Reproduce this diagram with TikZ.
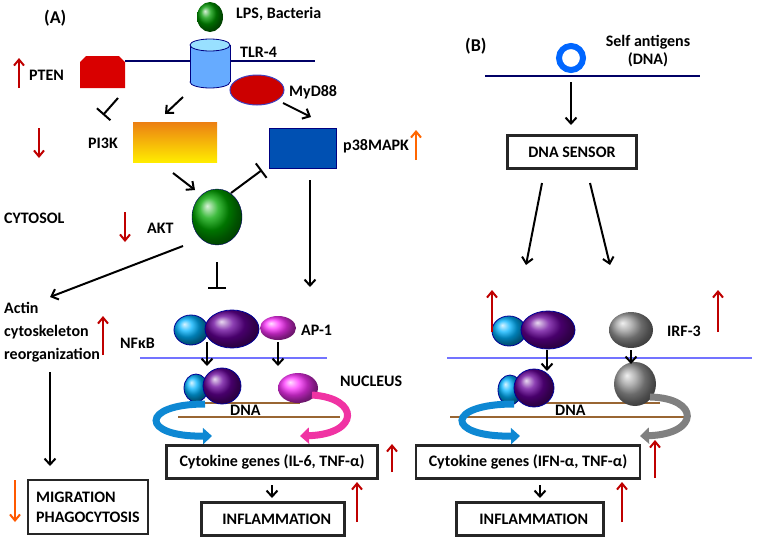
\documentclass[tikz,border=0pt]{standalone}
\usepackage{fontspec}
\setmainfont{Carlito}
\usetikzlibrary{arrows.meta,shapes.geometric}
\begin{document}
\begin{tikzpicture}[x=1pt,y=-1pt,
 lab/.style={font=\fontsize{16}{18}\selectfont\bfseries,inner sep=0,anchor=west},
 bx/.style={draw=black!85,line width=2.5pt,font=\fontsize{16}{18}\selectfont\bfseries,inner sep=0,minimum height=33pt},
 ar/.style={line width=2pt,-{Straight Barb[length=6pt,width=11pt]}},
 inh/.style={line width=2pt,-{Bar[width=18pt]}},
 up/.style={line width=2pt,red!75!black,-{Straight Barb[length=6pt,width=10pt]}},
 mem/.style={line width=1.5pt,blue!40!black},
 nuc/.style={line width=2pt,blue!55!white},
 dna/.style={line width=2pt,brown!80!black},
 cy/.style={ball color=cyan!70!blue,draw=blue!60!black,line width=0.8pt},
 pu/.style={ball color=violet!80!blue,draw=blue!60!black,line width=0.8pt},
 ma/.style={ball color=magenta!80!white},
 gr/.style={ball color=gray!80},
 curv/.style={line width=7pt,-{Triangle[length=9pt,width=16pt]}}]
\useasboundingbox (0,0) rectangle (757,536);
% ===== (A)
\node[lab,font=\fontsize{18}{20}\selectfont\bfseries] (A) at (44,18) {(A)};
\draw[mem] (125,61) coordinate (ml) -- (315,61) coordinate (mr);
\node[ellipse,minimum width=26pt,minimum height=30pt,inner sep=0,ball color=green!60!black] (lps) at (210,17) {};
\node[lab] (lpst) at (236,14) {LPS, Bacteria};
\filldraw[draw=blue!50!black,fill=blue!55!cyan!60!white,line width=0.8pt] (210,82) ellipse[x radius=20pt,y radius=6pt];
\fill[blue!55!cyan!60!white] (190,45) rectangle (230,82);
\draw[blue!50!black,line width=0.8pt] (190,45) -- (190,82) (230,45) -- (230,82);
\filldraw[draw=blue!50!black,fill=blue!30!cyan!40!white,line width=0.8pt] (210,45) ellipse[x radius=20pt,y radius=6pt];
\coordinate (tlr) at (210,64);
\node[lab] (tlrt) at (240,52) {TLR-4};
\fill[red!85!black] (80,88) -- (80,62) -- (86,56) -- (119,56) -- (125,62) -- (125,88) -- cycle;
\coordinate (pten) at (102,72);
\node[lab] (ptent) at (29,75) {PTEN};
\draw[up] (19,88) coordinate (u1) -- (19,58) coordinate (u1e);
\node[ellipse,minimum width=54pt,minimum height=30pt,inner sep=0,fill=red!80!black,draw=blue!50!gray,line width=1pt] (myd) at (257,90) {};
\node[lab] (mydt) at (289,92) {MyD88};
\coordinate (p1) at (118,98); \coordinate (p2) at (103,115);
\draw[inh] (p1) -- (p2);
\coordinate (t1) at (183,97); \coordinate (t2) at (165,114);
\draw[ar] (t1) -- (t2);
\coordinate (m1) at (283,103); \coordinate (m2) at (311,117);
\draw[ar] (m1) -- (m2);
\node[minimum width=84pt,minimum height=40pt,inner sep=0,top color=orange!70!brown,bottom color=yellow!85!orange] (pi3k) at (175,142) {};
\node[lab] (pi3kt) at (88,143) {PI3K};
\draw[up] (39,128) coordinate (d1) -- (39,158) coordinate (d1e);
\node[minimum width=67pt,minimum height=40pt,inner sep=0,fill=blue!55!cyan!70!black,draw=blue!50!black] (p38) at (303,148) {};
\node[lab] (p38t) at (343,146) {p38MAPK};
\draw[up,orange!80!red] (416,160) coordinate (u2) -- (416,130) coordinate (u2e);
\coordinate (a1) at (173,173); \coordinate (a2) at (195,190);
\draw[ar] (a1) -- (a2);
\coordinate (i1) at (231,193); \coordinate (i2) at (262,170);
\draw[inh] (i1) -- (i2);
\node[ellipse,minimum width=50pt,minimum height=56pt,inner sep=0,ball color=green!65!black,draw=blue!40!black] (akt) at (217,217) {};
\node[lab] (aktt) at (147,228) {AKT};
\draw[up] (125,212) coordinate (d2) -- (125,242) coordinate (d2e);
\node[lab] (cyt) at (4,218) {CYTOSOL};
\coordinate (pd) at (310,180);
\draw[ar] (pd) -- (310,287) coordinate (pde);
\coordinate (ak1) at (183,246); \coordinate (ak2) at (50,297);
\draw[ar] (ak1) -- (ak2);
\coordinate (ai) at (217,262);
\draw[inh] (ai) -- (217,289) coordinate (aie);
\node[ellipse,cy,minimum width=34pt,minimum height=30pt,inner sep=0] (nfa) at (191,330) {};
\node[ellipse,pu,minimum width=54pt,minimum height=38pt,inner sep=0] (nfb) at (232,329) {};
\node[lab] (nft) at (120,343) {NFκB};
\draw[up] (103,355) coordinate (u3) -- (103,316) coordinate (u3e);
\node[ellipse,ma,minimum width=36pt,minimum height=24pt,inner sep=0] (ap1) at (278,328) {};
\node[lab] (ap1t) at (301,330) {AP-1};
\node[lab,align=left,anchor=north west,font=\fontsize{16}{23}\selectfont\bfseries] (actin) at (4,302) {Actin\\cytoskeleton\\reorganization};
\draw[nuc] (140,358) coordinate (nl) -- (327,358) coordinate (nr);
\node[lab] (nuct) at (340,381) {NUCLEUS};
\draw[dna] (200,403) coordinate (dA) -- (300,403);
\draw[dna] (178,417) coordinate (dB) -- (340,417);
\node[lab] (dnaA) at (230,410) {DNA};
\node[ellipse,cy,minimum width=24pt,minimum height=28pt,inner sep=0] (nna) at (196,388) {};
\node[ellipse,pu,minimum width=38pt,minimum height=36pt,inner sep=0] (nnb) at (222,386) {};
\node[ellipse,ma,minimum width=40pt,minimum height=30pt,inner sep=0] (nap) at (298,388) {};
\draw[ar] (207,342) coordinate (n1) -- (207,366) coordinate (n2);
\draw[ar] (278,342) coordinate (n3) -- (278,366) coordinate (n4);
\draw[curv,cyan!70!blue] (205,404) .. controls (140,404) and (140,437) .. (212,436);
\draw[curv,magenta!80!white] (312,395) .. controls (360,398) and (360,434) .. (300,436);
\node[bx,minimum width=211pt] (cg1) at (272,462) {Cytokine genes (IL-6, TNF-α)};
\draw[up] (392,472) coordinate (u4) -- (392,444) coordinate (u4e);
\draw[ar] (272,485) coordinate (c1) -- (272,498) coordinate (c2);
\node[bx,minimum width=143pt,anchor=west] (inf1) at (200,519) {\hspace{8pt}INFLAMMATION\hfill};
\draw[up] (357,522) coordinate (u5) -- (357,482) coordinate (u5e);
\node[bx,minimum width=120pt,minimum height=54pt,align=left,font=\fontsize{16}{20}\selectfont\bfseries] (mig) at (88,507) {MIGRATION\\PHAGOCYTOSIS};
\draw[ar] (50,372) coordinate (ac1) -- (50,466) coordinate (ac2);
\draw[up,orange!70!red] (15,480) coordinate (d3) -- (15,522) coordinate (d3e);
% ===== (B)
\node[lab,font=\fontsize{18}{20}\selectfont\bfseries] (B) at (465,46) {(B)};
\draw[mem] (485,76) coordinate (bl) -- (700,76) coordinate (br);
\node[circle,draw=blue!60!cyan,line width=6pt,fill=white,minimum size=24pt,inner sep=0] (self) at (571,58) {};
\node[lab,align=center,anchor=center] (selft) at (648,51) {Self antigens\\(DNA)};
\draw[ar] (571,82) coordinate (s1) -- (571,125) coordinate (s2);
\node[bx,minimum width=129pt] (sens) at (572,152) {DNA SENSOR};
\draw[ar] (542,183) coordinate (b1) -- (526,265) coordinate (b2);
\draw[ar] (590,183) coordinate (b3) -- (610,265) coordinate (b4);
\node[ellipse,cy,minimum width=34pt,minimum height=30pt,inner sep=0] (bna) at (509,331) {};
\node[ellipse,pu,minimum width=54pt,minimum height=38pt,inner sep=0] (bnb) at (548,330) {};
\draw[up] (492,332) coordinate (u6) -- (492,290) coordinate (u6e);
\node[ellipse,gr,minimum width=44pt,minimum height=36pt,inner sep=0] (irf) at (631,330) {};
\node[lab] (irft) at (667,331) {IRF-3};
\draw[up] (718,332) coordinate (u7) -- (718,290) coordinate (u7e);
\draw[nuc] (447,358) coordinate (bnl) -- (752,358) coordinate (bnr);
\draw[dna] (525,403) coordinate (dC) -- (660,403);
\draw[dna] (450,417) coordinate (dD) -- (690,417);
\node[lab] (dnaB) at (555,410) {DNA};
\node[ellipse,cy,minimum width=24pt,minimum height=30pt,inner sep=0] (bca) at (510,390) {};
\node[ellipse,pu,minimum width=40pt,minimum height=38pt,inner sep=0] (bcb) at (534,388) {};
\node[ellipse,gr,minimum width=42pt,minimum height=44pt,inner sep=0] (birf) at (635,384) {};
\draw[ar] (547,350) coordinate (b5) -- (547,371) coordinate (b6);
\draw[ar] (631,350) coordinate (b7) -- (631,364) coordinate (b8);
\draw[curv,cyan!70!blue] (514,404) .. controls (445,404) and (445,437) .. (520,436);
\draw[curv,gray] (650,397) .. controls (700,398) and (700,434) .. (640,436);
\node[bx,minimum width=224pt] (cg2) at (528,462) {Cytokine genes (IFN-α, TNF-α)};
\draw[up] (655,478) coordinate (u8) -- (655,440) coordinate (u8e);
\draw[ar] (540,485) coordinate (c3) -- (540,498) coordinate (c4);
\node[bx,minimum width=147pt,anchor=west] (inf2) at (455,519) {\hspace{8pt}INFLAMMATION\hfill};
\draw[up] (622,522) coordinate (u9) -- (622,482) coordinate (u9e);
\end{tikzpicture}
\end{document}
